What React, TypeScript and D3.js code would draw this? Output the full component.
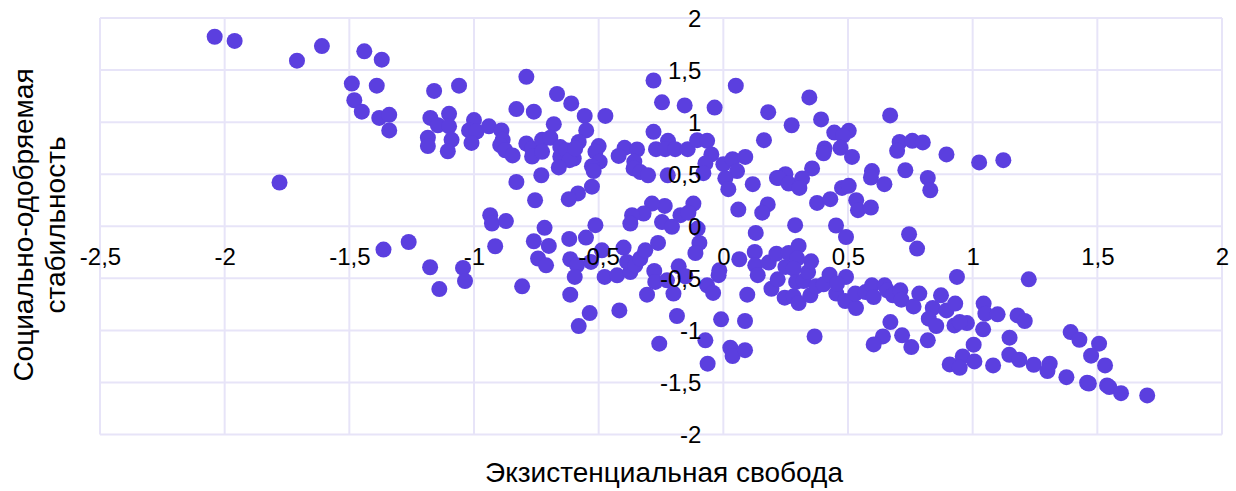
import * as d3 from "d3";
import { useEffect, useRef } from "react";

type Point = [number, number];

const xTicks = [-2.5, -2, -1.5, -1, -0.5, 0, 0.5, 1, 1.5, 2];
const yTicks = [-2, -1.5, -1, -0.5, 0, 0.5, 1, 1.5, 2];
const xTitle = "Экзистенциальная свобода";
const yTitleLines = ["Социально-одобряемая", "стабильность"];

// [existential freedom, socially approved stability]
const upperLeft: Point[] = [
  [-2.04, 1.82], [-1.96, 1.78], [-1.61, 1.73], [-1.71, 1.59], [-1.44, 1.68], [-1.37, 1.6],
  [-1.49, 1.37], [-1.39, 1.35], [-1.48, 1.21], [-1.45, 1.1], [-1.38, 1.04], [-1.34, 1.07],
  [-1.34, 0.92], [-1.16, 1.3], [-1.06, 1.35], [-1.175, 1.04], [-1.145, 0.97], [-1.1, 1.08],
  [-1.1, 0.96], [-1.09, 0.83], [-1.105, 0.72], [-1.185, 0.85], [-1.185, 0.77], [-1.0, 1.02],
  [-1.02, 0.92], [-0.99, 0.91], [-1.01, 0.8], [-0.94, 0.96], [-1.78, 0.42], [-0.89, 0.92],
  [-0.885, 0.83], [-0.895, 0.78], [-0.875, 0.73], [-0.845, 0.68], [-0.79, 1.435], [-0.83, 1.125],
  [-0.76, 1.1], [-0.667, 1.27], [-0.61, 1.18], [-0.556, 1.06], [-0.473, 1.06], [-0.68, 0.98],
  [-0.55, 0.92], [-0.79, 0.795], [-0.767, 0.745], [-0.767, 0.67], [-0.727, 0.83], [-0.694, 0.85],
  [-0.727, 0.715], [-0.654, 0.76], [-0.654, 0.67], [-0.63, 0.73], [-0.6, 0.65], [-0.617, 0.635],
  [-0.66, 0.565], [-0.58, 0.81], [-0.594, 0.747], [-0.5, 0.77], [-0.513, 0.715], [-0.496, 0.62],
  [-0.527, 0.577], [-0.52, 0.53], [-0.73, 0.49], [-0.83, 0.425], [-0.527, 0.38], [-0.583, 0.315],
  [-0.62, 0.26], [-0.755, 0.25],
];

const upperCentre: Point[] = [
  [-0.396, 0.753], [-0.42, 0.675], [-0.346, 0.737], [-0.357, 0.62], [-0.36, 0.555], [-0.333, 0.52],
  [-0.302, 0.49], [-0.28, 1.4], [-0.246, 1.19], [-0.155, 1.16], [-0.035, 1.14], [0.05, 1.35],
  [0.18, 1.096], [-0.28, 0.907], [-0.27, 0.74], [-0.222, 0.82], [-0.233, 0.74], [-0.193, 0.74],
  [-0.143, 0.74], [-0.105, 0.827], [-0.065, 0.82], [-0.048, 0.69], [-0.072, 0.603], [-0.08, 0.51],
  [-0.223, 0.49], [0.0, 0.596], [0.037, 0.644], [0.088, 0.666], [0.055, 0.53], [0.008, 0.46],
  [0.02, 0.356], [0.118, 0.404], [0.215, 0.464], [0.163, 0.827], [0.06, 0.16], [0.178, 0.21],
  [0.156, 0.13], [0.13, -0.064], [-0.12, 0.218], [-0.172, 0.106], [-0.14, 0.13], [-0.235, 0.195],
  [-0.286, 0.218], [-0.32, 0.122], [-0.366, 0.106], [-0.373, 0.026], [-0.246, 0.04], [-0.206, -0.006],
];

const upperRight: Point[] = [
  [0.345, 1.237], [0.274, 0.97], [0.392, 1.026], [0.445, 0.9], [0.503, 0.916], [0.48, 0.87],
  [0.406, 0.747], [0.402, 0.7], [0.47, 0.753], [0.516, 0.666], [0.669, 1.064], [0.707, 0.81],
  [0.697, 0.724], [0.758, 0.82], [0.8, 0.805], [0.895, 0.69], [1.026, 0.613], [1.123, 0.635],
  [0.73, 0.538], [0.82, 0.464], [0.83, 0.346], [0.596, 0.53], [0.592, 0.468], [0.646, 0.404],
  [0.356, 0.555], [0.249, 0.5], [0.222, 0.464], [0.262, 0.41], [0.316, 0.459], [0.305, 0.368],
  [0.476, 0.368], [0.503, 0.388], [0.376, 0.224], [0.429, 0.26], [0.533, 0.25], [0.54, 0.154],
  [0.592, 0.18], [0.288, 0.01], [0.452, 0.007], [0.492, -0.103], [0.745, -0.077], [0.777, -0.214],
];

const lowerLeft: Point[] = [
  [-0.935, 0.106], [-0.928, 0.026], [-0.872, 0.05], [-0.717, -0.015], [-0.513, 0.01],
  [-1.363, -0.224], [-1.262, -0.151], [-1.176, -0.394], [-1.139, -0.603], [-1.044, -0.4],
  [-1.036, -0.526], [-0.915, -0.192], [-0.807, -0.577], [-0.76, -0.144], [-0.7, -0.189],
  [-0.743, -0.31], [-0.711, -0.375], [-0.618, -0.122], [-0.551, -0.109], [-0.614, -0.317],
  [-0.587, -0.375], [-0.596, -0.487], [-0.531, -0.343], [-0.614, -0.657], [-0.536, -0.834],
  [-0.58, -0.959], [-0.417, -0.808], [-0.476, -0.487], [-0.426, -0.471], [-0.487, -0.231],
  [-0.4, -0.205], [-0.373, -0.44], [-0.386, -0.343], [-0.353, -0.375], [-0.333, -0.31],
  [-0.313, -0.231], [-0.103, -0.022], [-0.262, -0.16], [-0.096, -0.16], [-0.112, -0.257],
  [-0.277, -0.43], [-0.273, -0.535], [-0.179, -0.385], [-0.152, -0.48], [-0.226, -0.519],
  [-0.306, -0.657], [-0.2, -0.647], [-0.186, -0.862], [-0.257, -1.128],
];

const lowerCentre: Point[] = [
  [0.064, -0.317], [-0.016, -0.423], [-0.019, -0.47], [-0.065, -0.567], [-0.041, -0.64],
  [0.096, -0.657], [-0.009, -0.894], [0.087, -0.91], [-0.072, -1.096], [-0.063, -1.32],
  [0.028, -1.167], [0.037, -1.247], [0.087, -1.19], [0.126, -0.247], [0.128, -0.375],
  [0.138, -0.47], [0.182, -0.349], [0.213, -0.263], [0.193, -0.6], [0.218, -0.51],
  [0.249, -0.391], [0.262, -0.257], [0.302, -0.189], [0.296, -0.31], [0.282, -0.407],
  [0.246, -0.686], [0.282, -0.673], [0.302, -0.737], [0.292, -0.535], [0.322, -0.526],
  [0.34, -0.44], [0.352, -0.337], [0.349, -0.663], [0.372, -0.577], [0.402, -0.558],
  [0.426, -0.465], [0.492, -0.487], [0.453, -0.647], [0.456, -0.551], [0.489, -0.718],
  [0.532, -0.785], [0.529, -0.647], [0.57, -0.632], [0.596, -0.567], [0.603, -0.68],
  [0.366, -1.058],
];

const lowerRight: Point[] = [
  [0.647, -0.567], [0.657, -0.615], [0.68, -0.663], [0.71, -0.615], [0.714, -0.705],
  [0.786, -0.647], [0.763, -0.77], [0.873, -0.663], [0.84, -0.785], [0.895, -0.808],
  [0.824, -0.888], [0.854, -0.958], [0.67, -0.92], [0.64, -1.058], [0.603, -1.135],
  [0.717, -1.048], [0.754, -1.16], [0.82, -1.096], [0.937, -0.487], [0.93, -0.743],
  [0.927, -0.952], [1.225, -0.51], [0.977, -0.93], [0.948, -0.92], [1.042, -0.99],
  [1.044, -0.743], [1.051, -0.84], [1.1, -0.846], [1.18, -0.856], [1.209, -0.91],
  [1.148, -1.07], [1.004, -1.137], [0.96, -1.25], [0.908, -1.327], [0.948, -1.359],
  [1.007, -1.298], [1.082, -1.337], [1.147, -1.234], [1.187, -1.282], [1.245, -1.33],
  [1.309, -1.32], [1.3, -1.39], [1.376, -1.449], [1.459, -1.503], [1.466, -1.51],
  [1.539, -1.529], [1.548, -1.545], [1.595, -1.603], [1.7, -1.625], [1.393, -1.016],
  [1.428, -1.09], [1.507, -1.128], [1.475, -1.243], [1.531, -1.337],
];

const points = [...upperLeft, ...upperCentre, ...upperRight, ...lowerLeft, ...lowerCentre, ...lowerRight];

const width = 1236;
const height = 491;
const font = "'Liberation Sans', Arial, sans-serif";
const gridColor = "#e7e4f8";
const dotColor = "#5b3fdf";

export default function App() {
  const svgRef = useRef<SVGSVGElement>(null);

  useEffect(() => {
    const x = d3.scaleLinear().domain([-2.5, 2]).range([100, 1222]);
    const y = d3.scaleLinear().domain([-2, 2]).range([434.5, 18]);
    const comma = (d: d3.NumberValue) => String(d).replace(".", ",");

    const svg = d3.select(svgRef.current);
    svg.selectAll("*").remove();

    //Grid
    svg.append("g")
      .selectAll("line")
      .data(xTicks)
      .join("line")
      .attr("x1", (d) => x(d))
      .attr("x2", (d) => x(d))
      .attr("y1", y(2))
      .attr("y2", y(-2))
      .attr("stroke", gridColor)
      .attr("stroke-width", 2);
    svg.append("g")
      .selectAll("line")
      .data(yTicks)
      .join("line")
      .attr("x1", x(-2.5))
      .attr("x2", x(2))
      .attr("y1", (d) => y(d))
      .attr("y2", (d) => y(d))
      .attr("stroke", gridColor)
      .attr("stroke-width", 2);

    //Points
    svg.append("g")
      .selectAll("circle")
      .data(points)
      .join("circle")
      .attr("cx", (d) => x(d[0]))
      .attr("cy", (d) => y(d[1]))
      .attr("r", 8)
      .attr("fill", dotColor);

    //Tick labels sit on top of the points
    svg.append("g")
      .attr("transform", `translate(0,${y(0)})`)
      .call(d3.axisBottom(x).tickValues(xTicks).tickSize(0).tickPadding(0).tickFormat(comma))
      .call((g) => g.select(".domain").remove())
      .call((g) => g.selectAll("text").attr("dy", null).attr("y", 39));
    svg.append("g")
      .attr("transform", `translate(${x(0) - 22},0)`)
      .call(d3.axisLeft(y).tickValues(yTicks).tickSize(0).tickPadding(0).tickFormat(comma))
      .call((g) => g.select(".domain").remove())
      .call((g) => g.selectAll("text").attr("dy", "0.35em").attr("x", 0));
    svg.selectAll(".tick text")
      .attr("font-family", font)
      .attr("font-size", 24)
      .attr("fill", "#000");

    //Titles
    svg.append("text")
      .attr("x", 664)
      .attr("y", 482)
      .attr("text-anchor", "middle")
      .attr("font-family", font)
      .attr("font-size", 28)
      .attr("fill", "#000")
      .text(xTitle);
    svg.append("g")
      .attr("transform", "translate(33,225) rotate(-90)")
      .selectAll("text")
      .data(yTitleLines)
      .join("text")
      .attr("y", (_, i) => i * 32)
      .attr("text-anchor", "middle")
      .attr("font-family", font)
      .attr("font-size", 28)
      .attr("fill", "#000")
      .text((d) => d);
  }, []);

  return (
    <svg
      ref={svgRef}
      width={width}
      height={height}
      style={{ position: "absolute", left: 0, top: 0, background: "#fff" }}
    />
  );
}
